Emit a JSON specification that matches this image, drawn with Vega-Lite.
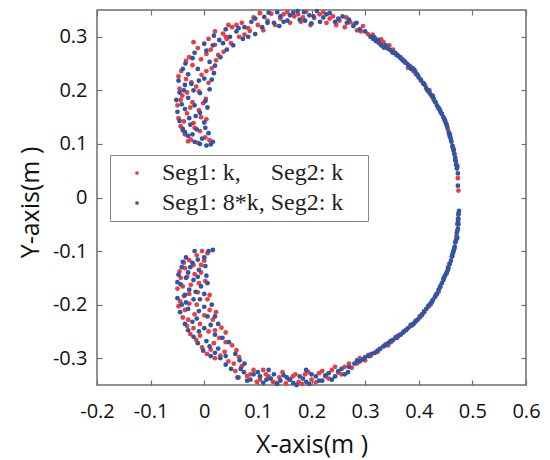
{
"$schema":"https://vega.github.io/schema/vega-lite/v6.json",
"autosize":{"type":"none"},
"padding":{"left":97,"top":10,"right":24,"bottom":75},
"width":429,"height":375,
"background":"white",
"config":{"view":{"stroke":"#6e6e6e","strokeWidth":1.5},"axis":{"grid":false,"domain":false,"labelFlush":false,"tickColor":"#6e6e6e","tickSize":-5,"tickWidth":1.2,"labelFont":"Open Sans","labelFontSize":20,"labelColor":"#111","titleFont":"Open Sans","titleFontSize":25,"titleFontWeight":"normal","titleColor":"#111"}},
"data":{"values":[
{"seg1":"k","x":-0.012,"y":0.102},{"seg1":"k","x":-0.025,"y":0.108},{"seg1":"k","x":0.002,"y":0.112},{"seg1":"k","x":-0.036,"y":0.118},{"seg1":"k","x":-0.008,"y":0.124},{"seg1":"k","x":-0.044,"y":0.133},{"seg1":"k","x":-0.02,"y":0.139},{"seg1":"k","x":0.004,"y":0.146},{"seg1":"k","x":-0.048,"y":0.148},{"seg1":"k","x":-0.032,"y":0.157},{"seg1":"k","x":-0.01,"y":0.163},{"seg1":"k","x":-0.05,"y":0.172},{"seg1":"k","x":-0.022,"y":0.178},{"seg1":"k","x":0.003,"y":0.184},{"seg1":"k","x":-0.041,"y":0.19},{"seg1":"k","x":-0.046,"y":0.203},{"seg1":"k","x":-0.015,"y":0.207},{"seg1":"k","x":0.008,"y":0.214},{"seg1":"k","x":-0.034,"y":0.221},{"seg1":"k","x":-0.005,"y":0.229},{"seg1":"k","x":-0.043,"y":0.236},{"seg1":"k","x":0.014,"y":0.241},{"seg1":"k","x":-0.022,"y":0.247},{"seg1":"k","x":0.022,"y":0.256},{"seg1":"k","x":-0.028,"y":0.262},{"seg1":"k","x":0.004,"y":0.268},{"seg1":"k","x":0.036,"y":0.272},{"seg1":"k","x":-0.012,"y":0.279},{"seg1":"k","x":0.02,"y":0.285},{"seg1":"k","x":0.05,"y":0.288},{"seg1":"k","x":0.008,"y":0.296},{"seg1":"k","x":0.065,"y":0.3},{"seg1":"k","x":0.035,"y":0.306},{"seg1":"k","x":0.085,"y":0.311},{"seg1":"k","x":0.052,"y":0.318},
{"seg1":"k","x":-0.03,"y":0.105},{"seg1":"k","x":0.01,"y":0.107},{"seg1":"k","x":-0.04,"y":0.125},{"seg1":"k","x":-0.018,"y":0.13},{"seg1":"k","x":-0.038,"y":0.142},{"seg1":"k","x":-0.006,"y":0.15},{"seg1":"k","x":-0.026,"y":0.168},{"seg1":"k","x":-0.044,"y":0.182},{"seg1":"k","x":-0.002,"y":0.176},{"seg1":"k","x":-0.032,"y":0.196},{"seg1":"k","x":-0.01,"y":0.198},{"seg1":"k","x":-0.024,"y":0.215},{"seg1":"k","x":-0.048,"y":0.226},{"seg1":"k","x":0.004,"y":0.236},{"seg1":"k","x":-0.034,"y":0.255},{"seg1":"k","x":-0.006,"y":0.258},{"seg1":"k","x":0.026,"y":0.266},{"seg1":"k","x":-0.02,"y":0.29},{"seg1":"k","x":0.012,"y":0.276},{"seg1":"k","x":0.042,"y":0.296},{"seg1":"k","x":0.075,"y":0.304},{"seg1":"k","x":0.02,"y":0.31},{"seg1":"k","x":0.06,"y":0.322},{"seg1":"k","x":0.04,"y":0.3},{"seg1":"k","x":0.045,"y":0.322},
{"seg1":"k","x":0.07,"y":0.326},{"seg1":"k","x":0.1,"y":0.322},{"seg1":"k","x":0.092,"y":0.336},{"seg1":"k","x":0.118,"y":0.33},{"seg1":"k","x":0.125,"y":0.343},{"seg1":"k","x":0.142,"y":0.334},{"seg1":"k","x":0.155,"y":0.346},{"seg1":"k","x":0.168,"y":0.338},{"seg1":"k","x":0.18,"y":0.328},{"seg1":"k","x":0.19,"y":0.347},{"seg1":"k","x":0.205,"y":0.335},{"seg1":"k","x":0.215,"y":0.342},{"seg1":"k","x":0.228,"y":0.326},{"seg1":"k","x":0.24,"y":0.338},{"seg1":"k","x":0.252,"y":0.33},{"seg1":"k","x":0.262,"y":0.318},{"seg1":"k","x":0.272,"y":0.327},{"seg1":"k","x":0.285,"y":0.312},{"seg1":"k","x":0.296,"y":0.32},{"seg1":"k","x":0.305,"y":0.305},
{"seg1":"k","x":0.082,"y":0.316},{"seg1":"k","x":0.11,"y":0.312},{"seg1":"k","x":0.132,"y":0.322},{"seg1":"k","x":0.148,"y":0.342},{"seg1":"k","x":0.16,"y":0.326},{"seg1":"k","x":0.175,"y":0.342},{"seg1":"k","x":0.198,"y":0.322},{"seg1":"k","x":0.222,"y":0.346},{"seg1":"k","x":0.234,"y":0.334},{"seg1":"k","x":0.246,"y":0.322},{"seg1":"k","x":0.265,"y":0.336},{"seg1":"k","x":0.28,"y":0.324},{"seg1":"k","x":0.104,"y":0.344},{"seg1":"k","x":0.184,"y":0.336},{"seg1":"k","x":0.292,"y":0.31},
{"seg1":"k","x":0.318,"y":0.298},{"seg1":"k","x":0.326,"y":0.288},{"seg1":"k","x":0.334,"y":0.29},{"seg1":"k","x":0.342,"y":0.278},{"seg1":"k","x":0.352,"y":0.276},{"seg1":"k","x":0.358,"y":0.266},{"seg1":"k","x":0.366,"y":0.262},{"seg1":"k","x":0.374,"y":0.252},{"seg1":"k","x":0.383,"y":0.246},{"seg1":"k","x":0.39,"y":0.236},{"seg1":"k","x":0.398,"y":0.228},{"seg1":"k","x":0.404,"y":0.218},{"seg1":"k","x":0.412,"y":0.209},{"seg1":"k","x":0.418,"y":0.198},{"seg1":"k","x":0.425,"y":0.188},{"seg1":"k","x":0.431,"y":0.178},{"seg1":"k","x":0.437,"y":0.166},{"seg1":"k","x":0.443,"y":0.156},{"seg1":"k","x":0.449,"y":0.142},{"seg1":"k","x":0.454,"y":0.128},{"seg1":"k","x":0.459,"y":0.112},{"seg1":"k","x":0.463,"y":0.096},{"seg1":"k","x":0.467,"y":0.08},{"seg1":"k","x":0.473,"y":0.036},{"seg1":"k","x":0.474,"y":0.013},
{"seg1":"k","x":0.314,"y":0.304},{"seg1":"k","x":0.33,"y":0.295},{"seg1":"k","x":0.345,"y":0.284},{"seg1":"k","x":0.355,"y":0.27},{"seg1":"k","x":0.37,"y":0.258},{"seg1":"k","x":0.38,"y":0.242},{"seg1":"k","x":0.395,"y":0.23},{"seg1":"k","x":0.409,"y":0.212},{"seg1":"k","x":0.42,"y":0.2},{"seg1":"k","x":0.428,"y":0.182},{"seg1":"k","x":0.44,"y":0.16},{"seg1":"k","x":0.452,"y":0.136},{"seg1":"k","x":0.458,"y":0.118},{"seg1":"k","x":0.465,"y":0.09},{"seg1":"k","x":0.47,"y":0.06},
{"seg1":"k","x":0.474,"y":-0.03},{"seg1":"k","x":0.472,"y":-0.05},{"seg1":"k","x":0.47,"y":-0.072},{"seg1":"k","x":0.466,"y":-0.095},{"seg1":"k","x":0.462,"y":-0.11},{"seg1":"k","x":0.457,"y":-0.124},{"seg1":"k","x":0.452,"y":-0.142},{"seg1":"k","x":0.446,"y":-0.152},{"seg1":"k","x":0.44,"y":-0.168},{"seg1":"k","x":0.433,"y":-0.18},{"seg1":"k","x":0.426,"y":-0.192},{"seg1":"k","x":0.418,"y":-0.204},{"seg1":"k","x":0.41,"y":-0.212},{"seg1":"k","x":0.402,"y":-0.224},{"seg1":"k","x":0.394,"y":-0.23},{"seg1":"k","x":0.385,"y":-0.24},{"seg1":"k","x":0.376,"y":-0.247},{"seg1":"k","x":0.366,"y":-0.256},{"seg1":"k","x":0.357,"y":-0.26},{"seg1":"k","x":0.348,"y":-0.27},{"seg1":"k","x":0.338,"y":-0.274},{"seg1":"k","x":0.328,"y":-0.283},{"seg1":"k","x":0.318,"y":-0.29},{"seg1":"k","x":0.306,"y":-0.294},{"seg1":"k","x":0.296,"y":-0.302},
{"seg1":"k","x":0.473,"y":-0.04},{"seg1":"k","x":0.469,"y":-0.082},{"seg1":"k","x":0.464,"y":-0.102},{"seg1":"k","x":0.455,"y":-0.13},{"seg1":"k","x":0.448,"y":-0.148},{"seg1":"k","x":0.437,"y":-0.176},{"seg1":"k","x":0.422,"y":-0.2},{"seg1":"k","x":0.406,"y":-0.22},{"seg1":"k","x":0.39,"y":-0.236},{"seg1":"k","x":0.372,"y":-0.25},{"seg1":"k","x":0.36,"y":-0.262},{"seg1":"k","x":0.343,"y":-0.276},{"seg1":"k","x":0.323,"y":-0.288},{"seg1":"k","x":0.31,"y":-0.296},{"seg1":"k","x":0.3,"y":-0.304},
{"seg1":"k","x":0.285,"y":-0.31},{"seg1":"k","x":0.275,"y":-0.318},{"seg1":"k","x":0.262,"y":-0.316},{"seg1":"k","x":0.25,"y":-0.327},{"seg1":"k","x":0.238,"y":-0.322},{"seg1":"k","x":0.226,"y":-0.334},{"seg1":"k","x":0.214,"y":-0.328},{"seg1":"k","x":0.2,"y":-0.34},{"seg1":"k","x":0.188,"y":-0.33},{"seg1":"k","x":0.176,"y":-0.344},{"seg1":"k","x":0.165,"y":-0.334},{"seg1":"k","x":0.152,"y":-0.347},{"seg1":"k","x":0.14,"y":-0.336},{"seg1":"k","x":0.128,"y":-0.344},{"seg1":"k","x":0.115,"y":-0.33},{"seg1":"k","x":0.104,"y":-0.34},{"seg1":"k","x":0.092,"y":-0.322},{"seg1":"k","x":0.08,"y":-0.333},{"seg1":"k","x":0.07,"y":-0.315},{"seg1":"k","x":0.058,"y":-0.324},
{"seg1":"k","x":0.29,"y":-0.3},{"seg1":"k","x":0.27,"y":-0.31},{"seg1":"k","x":0.256,"y":-0.33},{"seg1":"k","x":0.244,"y":-0.316},{"seg1":"k","x":0.232,"y":-0.338},{"seg1":"k","x":0.22,"y":-0.324},{"seg1":"k","x":0.208,"y":-0.345},{"seg1":"k","x":0.194,"y":-0.326},{"seg1":"k","x":0.182,"y":-0.348},{"seg1":"k","x":0.17,"y":-0.33},{"seg1":"k","x":0.158,"y":-0.34},{"seg1":"k","x":0.146,"y":-0.326},{"seg1":"k","x":0.134,"y":-0.346},{"seg1":"k","x":0.12,"y":-0.334},{"seg1":"k","x":0.11,"y":-0.322},{"seg1":"k","x":0.098,"y":-0.344},{"seg1":"k","x":0.086,"y":-0.33},{"seg1":"k","x":0.064,"y":-0.336},
{"seg1":"k","x":0.045,"y":-0.306},{"seg1":"k","x":0.02,"y":-0.3},{"seg1":"k","x":0.065,"y":-0.298},{"seg1":"k","x":0.005,"y":-0.292},{"seg1":"k","x":0.038,"y":-0.288},{"seg1":"k","x":-0.004,"y":-0.28},{"seg1":"k","x":0.052,"y":-0.276},{"seg1":"k","x":0.018,"y":-0.272},{"seg1":"k","x":-0.015,"y":-0.266},{"seg1":"k","x":0.028,"y":-0.262},{"seg1":"k","x":-0.026,"y":-0.255},{"seg1":"k","x":0.008,"y":-0.25},{"seg1":"k","x":0.032,"y":-0.243},{"seg1":"k","x":-0.032,"y":-0.24},{"seg1":"k","x":-0.008,"y":-0.236},{"seg1":"k","x":0.016,"y":-0.228},{"seg1":"k","x":-0.04,"y":-0.224},{"seg1":"k","x":-0.018,"y":-0.218},{"seg1":"k","x":0.01,"y":-0.21},{"seg1":"k","x":-0.048,"y":-0.203},{"seg1":"k","x":-0.028,"y":-0.198},{"seg1":"k","x":0.006,"y":-0.19},{"seg1":"k","x":-0.038,"y":-0.184},{"seg1":"k","x":-0.012,"y":-0.177},{"seg1":"k","x":-0.05,"y":-0.17},{"seg1":"k","x":-0.025,"y":-0.163},{"seg1":"k","x":0.002,"y":-0.156},{"seg1":"k","x":-0.044,"y":-0.15},{"seg1":"k","x":-0.018,"y":-0.143},{"seg1":"k","x":-0.036,"y":-0.132},{"seg1":"k","x":-0.006,"y":-0.126},{"seg1":"k","x":-0.028,"y":-0.117},{"seg1":"k","x":-0.014,"y":-0.108},{"seg1":"k","x":-0.004,"y":-0.1},{"seg1":"k","x":0.006,"y":-0.104},
{"seg1":"k","x":0.055,"y":-0.31},{"seg1":"k","x":0.03,"y":-0.295},{"seg1":"k","x":0.012,"y":-0.284},{"seg1":"k","x":0.06,"y":-0.285},{"seg1":"k","x":0.04,"y":-0.27},{"seg1":"k","x":-0.008,"y":-0.258},{"seg1":"k","x":0.02,"y":-0.248},{"seg1":"k","x":-0.02,"y":-0.244},{"seg1":"k","x":0.04,"y":-0.252},{"seg1":"k","x":-0.03,"y":-0.228},{"seg1":"k","x":0.0,"y":-0.22},{"seg1":"k","x":0.022,"y":-0.214},{"seg1":"k","x":-0.036,"y":-0.21},{"seg1":"k","x":-0.014,"y":-0.2},{"seg1":"k","x":-0.045,"y":-0.194},{"seg1":"k","x":0.01,"y":-0.182},{"seg1":"k","x":-0.028,"y":-0.18},{"seg1":"k","x":-0.04,"y":-0.166},{"seg1":"k","x":-0.01,"y":-0.16},{"seg1":"k","x":-0.032,"y":-0.148},{"seg1":"k","x":-0.006,"y":-0.14},{"seg1":"k","x":-0.046,"y":-0.138},{"seg1":"k","x":-0.02,"y":-0.126},{"seg1":"k","x":-0.038,"y":-0.122},{"seg1":"k","x":0.0,"y":-0.118},
{"seg1":"8*k","x":0.004,"y":0.097},{"seg1":"8*k","x":0.012,"y":0.099},{"seg1":"8*k","x":-0.018,"y":0.104},{"seg1":"8*k","x":-0.004,"y":0.11},{"seg1":"8*k","x":-0.03,"y":0.115},{"seg1":"8*k","x":0.008,"y":0.12},{"seg1":"8*k","x":-0.014,"y":0.127},{"seg1":"8*k","x":-0.04,"y":0.128},{"seg1":"8*k","x":-0.026,"y":0.136},{"seg1":"8*k","x":0.0,"y":0.14},{"seg1":"8*k","x":-0.046,"y":0.143},{"seg1":"8*k","x":-0.016,"y":0.152},{"seg1":"8*k","x":-0.036,"y":0.165},{"seg1":"8*k","x":0.006,"y":0.168},{"seg1":"8*k","x":-0.052,"y":0.182},{"seg1":"8*k","x":-0.03,"y":0.186},{"seg1":"8*k","x":-0.008,"y":0.195},{"seg1":"8*k","x":-0.038,"y":0.2},{"seg1":"8*k","x":0.01,"y":0.202},{"seg1":"8*k","x":-0.024,"y":0.212},{"seg1":"8*k","x":-0.048,"y":0.218},{"seg1":"8*k","x":0.0,"y":0.222},{"seg1":"8*k","x":-0.03,"y":0.23},{"seg1":"8*k","x":0.018,"y":0.232},{"seg1":"8*k","x":-0.012,"y":0.24},{"seg1":"8*k","x":-0.035,"y":0.25},{"seg1":"8*k","x":0.01,"y":0.253},{"seg1":"8*k","x":0.03,"y":0.262},{"seg1":"8*k","x":-0.018,"y":0.27},{"seg1":"8*k","x":0.042,"y":0.276},{"seg1":"8*k","x":0.0,"y":0.287},{"seg1":"8*k","x":0.028,"y":0.294},{"seg1":"8*k","x":0.072,"y":0.296},{"seg1":"8*k","x":0.018,"y":0.302},{"seg1":"8*k","x":0.048,"y":0.3},{"seg1":"8*k","x":0.06,"y":0.31},{"seg1":"8*k","x":0.095,"y":0.305},{"seg1":"8*k","x":0.04,"y":0.314},
{"seg1":"8*k","x":-0.008,"y":0.1},{"seg1":"8*k","x":0.016,"y":0.104},{"seg1":"8*k","x":-0.022,"y":0.118},{"seg1":"8*k","x":-0.036,"y":0.122},{"seg1":"8*k","x":0.002,"y":0.13},{"seg1":"8*k","x":-0.05,"y":0.16},{"seg1":"8*k","x":-0.028,"y":0.148},{"seg1":"8*k","x":-0.008,"y":0.158},{"seg1":"8*k","x":-0.042,"y":0.174},{"seg1":"8*k","x":-0.018,"y":0.172},{"seg1":"8*k","x":0.002,"y":0.18},{"seg1":"8*k","x":-0.046,"y":0.196},{"seg1":"8*k","x":-0.02,"y":0.2},{"seg1":"8*k","x":-0.036,"y":0.21},{"seg1":"8*k","x":-0.01,"y":0.218},{"seg1":"8*k","x":0.014,"y":0.22},{"seg1":"8*k","x":-0.04,"y":0.24},{"seg1":"8*k","x":-0.022,"y":0.26},{"seg1":"8*k","x":0.02,"y":0.246},{"seg1":"8*k","x":0.004,"y":0.274},{"seg1":"8*k","x":0.054,"y":0.284},{"seg1":"8*k","x":0.016,"y":0.284},{"seg1":"8*k","x":0.035,"y":0.288},{"seg1":"8*k","x":0.082,"y":0.3},{"seg1":"8*k","x":0.064,"y":0.316},
{"seg1":"8*k","x":0.075,"y":0.318},{"seg1":"8*k","x":0.088,"y":0.328},{"seg1":"8*k","x":0.108,"y":0.318},{"seg1":"8*k","x":0.112,"y":0.337},{"seg1":"8*k","x":0.13,"y":0.326},{"seg1":"8*k","x":0.136,"y":0.346},{"seg1":"8*k","x":0.148,"y":0.328},{"seg1":"8*k","x":0.16,"y":0.34},{"seg1":"8*k","x":0.174,"y":0.348},{"seg1":"8*k","x":0.178,"y":0.332},{"seg1":"8*k","x":0.196,"y":0.34},{"seg1":"8*k","x":0.2,"y":0.325},{"seg1":"8*k","x":0.21,"y":0.348},{"seg1":"8*k","x":0.222,"y":0.336},{"seg1":"8*k","x":0.234,"y":0.344},{"seg1":"8*k","x":0.244,"y":0.328},{"seg1":"8*k","x":0.258,"y":0.338},{"seg1":"8*k","x":0.266,"y":0.326},{"seg1":"8*k","x":0.278,"y":0.32},{"seg1":"8*k","x":0.29,"y":0.314},{"seg1":"8*k","x":0.3,"y":0.31},{"seg1":"8*k","x":0.31,"y":0.3},
{"seg1":"8*k","x":0.095,"y":0.334},{"seg1":"8*k","x":0.12,"y":0.345},{"seg1":"8*k","x":0.118,"y":0.326},{"seg1":"8*k","x":0.142,"y":0.338},{"seg1":"8*k","x":0.155,"y":0.33},{"seg1":"8*k","x":0.166,"y":0.345},{"seg1":"8*k","x":0.188,"y":0.33},{"seg1":"8*k","x":0.186,"y":0.346},{"seg1":"8*k","x":0.204,"y":0.338},{"seg1":"8*k","x":0.216,"y":0.328},{"seg1":"8*k","x":0.228,"y":0.342},{"seg1":"8*k","x":0.25,"y":0.334},{"seg1":"8*k","x":0.27,"y":0.332},{"seg1":"8*k","x":0.284,"y":0.326},{"seg1":"8*k","x":0.14,"y":0.32},
{"seg1":"8*k","x":0.32,"y":0.292},{"seg1":"8*k","x":0.33,"y":0.284},{"seg1":"8*k","x":0.338,"y":0.284},{"seg1":"8*k","x":0.346,"y":0.276},{"seg1":"8*k","x":0.356,"y":0.27},{"seg1":"8*k","x":0.362,"y":0.264},{"seg1":"8*k","x":0.37,"y":0.256},{"seg1":"8*k","x":0.378,"y":0.25},{"seg1":"8*k","x":0.386,"y":0.24},{"seg1":"8*k","x":0.394,"y":0.234},{"seg1":"8*k","x":0.4,"y":0.224},{"seg1":"8*k","x":0.408,"y":0.214},{"seg1":"8*k","x":0.414,"y":0.204},{"seg1":"8*k","x":0.421,"y":0.194},{"seg1":"8*k","x":0.428,"y":0.184},{"seg1":"8*k","x":0.434,"y":0.172},{"seg1":"8*k","x":0.44,"y":0.162},{"seg1":"8*k","x":0.446,"y":0.15},{"seg1":"8*k","x":0.451,"y":0.138},{"seg1":"8*k","x":0.456,"y":0.122},{"seg1":"8*k","x":0.461,"y":0.104},{"seg1":"8*k","x":0.465,"y":0.088},{"seg1":"8*k","x":0.468,"y":0.074},{"seg1":"8*k","x":0.47,"y":0.062},{"seg1":"8*k","x":0.471,"y":0.054},{"seg1":"8*k","x":0.473,"y":0.045},{"seg1":"8*k","x":0.473,"y":0.022},{"seg1":"8*k","x":0.472,"y":0.058},
{"seg1":"8*k","x":0.315,"y":0.296},{"seg1":"8*k","x":0.325,"y":0.29},{"seg1":"8*k","x":0.335,"y":0.28},{"seg1":"8*k","x":0.35,"y":0.272},{"seg1":"8*k","x":0.366,"y":0.26},{"seg1":"8*k","x":0.382,"y":0.245},{"seg1":"8*k","x":0.392,"y":0.238},{"seg1":"8*k","x":0.404,"y":0.22},{"seg1":"8*k","x":0.418,"y":0.2},{"seg1":"8*k","x":0.426,"y":0.19},{"seg1":"8*k","x":0.438,"y":0.166},{"seg1":"8*k","x":0.449,"y":0.144},{"seg1":"8*k","x":0.458,"y":0.114},{"seg1":"8*k","x":0.463,"y":0.096},{"seg1":"8*k","x":0.469,"y":0.068},
{"seg1":"8*k","x":0.316,"y":0.3},{"seg1":"8*k","x":0.324,"y":0.294},{"seg1":"8*k","x":0.34,"y":0.28},{"seg1":"8*k","x":0.352,"y":0.27},{"seg1":"8*k","x":0.36,"y":0.266},{"seg1":"8*k","x":0.374,"y":0.254},{"seg1":"8*k","x":0.388,"y":0.242},{"seg1":"8*k","x":0.397,"y":0.23},{"seg1":"8*k","x":0.41,"y":0.212},{"seg1":"8*k","x":0.416,"y":0.2},{"seg1":"8*k","x":0.424,"y":0.19},{"seg1":"8*k","x":0.431,"y":0.178},{"seg1":"8*k","x":0.436,"y":0.168},{"seg1":"8*k","x":0.443,"y":0.156},{"seg1":"8*k","x":0.448,"y":0.146},{"seg1":"8*k","x":0.453,"y":0.132},{"seg1":"8*k","x":0.457,"y":0.118},{"seg1":"8*k","x":0.46,"y":0.108},{"seg1":"8*k","x":0.464,"y":0.092},{"seg1":"8*k","x":0.466,"y":0.082},{"seg1":"8*k","x":0.468,"y":0.07},
{"seg1":"8*k","x":0.475,"y":-0.025},{"seg1":"8*k","x":0.474,"y":-0.04},{"seg1":"8*k","x":0.473,"y":-0.058},{"seg1":"8*k","x":0.471,"y":-0.066},{"seg1":"8*k","x":0.468,"y":-0.084},{"seg1":"8*k","x":0.465,"y":-0.1},{"seg1":"8*k","x":0.46,"y":-0.118},{"seg1":"8*k","x":0.455,"y":-0.132},{"seg1":"8*k","x":0.449,"y":-0.146},{"seg1":"8*k","x":0.443,"y":-0.16},{"seg1":"8*k","x":0.437,"y":-0.172},{"seg1":"8*k","x":0.43,"y":-0.186},{"seg1":"8*k","x":0.422,"y":-0.198},{"seg1":"8*k","x":0.414,"y":-0.208},{"seg1":"8*k","x":0.406,"y":-0.218},{"seg1":"8*k","x":0.398,"y":-0.228},{"seg1":"8*k","x":0.39,"y":-0.236},{"seg1":"8*k","x":0.38,"y":-0.244},{"seg1":"8*k","x":0.371,"y":-0.252},{"seg1":"8*k","x":0.362,"y":-0.258},{"seg1":"8*k","x":0.352,"y":-0.266},{"seg1":"8*k","x":0.343,"y":-0.272},{"seg1":"8*k","x":0.334,"y":-0.278},{"seg1":"8*k","x":0.323,"y":-0.286},{"seg1":"8*k","x":0.312,"y":-0.292},{"seg1":"8*k","x":0.3,"y":-0.298},{"seg1":"8*k","x":0.29,"y":-0.306},{"seg1":"8*k","x":0.28,"y":-0.31},
{"seg1":"8*k","x":0.474,"y":-0.05},{"seg1":"8*k","x":0.472,"y":-0.075},{"seg1":"8*k","x":0.467,"y":-0.092},{"seg1":"8*k","x":0.462,"y":-0.11},{"seg1":"8*k","x":0.452,"y":-0.14},{"seg1":"8*k","x":0.446,"y":-0.154},{"seg1":"8*k","x":0.434,"y":-0.18},{"seg1":"8*k","x":0.426,"y":-0.192},{"seg1":"8*k","x":0.41,"y":-0.214},{"seg1":"8*k","x":0.394,"y":-0.232},{"seg1":"8*k","x":0.385,"y":-0.238},{"seg1":"8*k","x":0.366,"y":-0.256},{"seg1":"8*k","x":0.347,"y":-0.268},{"seg1":"8*k","x":0.328,"y":-0.282},{"seg1":"8*k","x":0.306,"y":-0.296},
{"seg1":"8*k","x":0.474,"y":-0.032},{"seg1":"8*k","x":0.473,"y":-0.046},{"seg1":"8*k","x":0.472,"y":-0.062},{"seg1":"8*k","x":0.47,"y":-0.078},{"seg1":"8*k","x":0.466,"y":-0.096},{"seg1":"8*k","x":0.463,"y":-0.106},{"seg1":"8*k","x":0.458,"y":-0.124},{"seg1":"8*k","x":0.454,"y":-0.136},{"seg1":"8*k","x":0.447,"y":-0.15},{"seg1":"8*k","x":0.44,"y":-0.166},{"seg1":"8*k","x":0.432,"y":-0.182},{"seg1":"8*k","x":0.424,"y":-0.196},{"seg1":"8*k","x":0.418,"y":-0.202},{"seg1":"8*k","x":0.402,"y":-0.222},{"seg1":"8*k","x":0.388,"y":-0.238},{"seg1":"8*k","x":0.376,"y":-0.248},{"seg1":"8*k","x":0.358,"y":-0.262},{"seg1":"8*k","x":0.338,"y":-0.276},{"seg1":"8*k","x":0.318,"y":-0.29},{"seg1":"8*k","x":0.296,"y":-0.302},
{"seg1":"8*k","x":0.27,"y":-0.316},{"seg1":"8*k","x":0.268,"y":-0.326},{"seg1":"8*k","x":0.256,"y":-0.32},{"seg1":"8*k","x":0.244,"y":-0.334},{"seg1":"8*k","x":0.232,"y":-0.328},{"seg1":"8*k","x":0.22,"y":-0.342},{"seg1":"8*k","x":0.208,"y":-0.334},{"seg1":"8*k","x":0.196,"y":-0.348},{"seg1":"8*k","x":0.184,"y":-0.338},{"seg1":"8*k","x":0.172,"y":-0.35},{"seg1":"8*k","x":0.16,"y":-0.34},{"seg1":"8*k","x":0.148,"y":-0.332},{"seg1":"8*k","x":0.136,"y":-0.348},{"seg1":"8*k","x":0.124,"y":-0.338},{"seg1":"8*k","x":0.11,"y":-0.346},{"seg1":"8*k","x":0.1,"y":-0.326},{"seg1":"8*k","x":0.086,"y":-0.34},{"seg1":"8*k","x":0.074,"y":-0.326},{"seg1":"8*k","x":0.062,"y":-0.336},{"seg1":"8*k","x":0.05,"y":-0.32},{"seg1":"8*k","x":0.04,"y":-0.312},{"seg1":"8*k","x":0.075,"y":-0.31},{"seg1":"8*k","x":0.19,"y":-0.322},{"seg1":"8*k","x":0.12,"y":-0.322},
{"seg1":"8*k","x":0.285,"y":-0.304},{"seg1":"8*k","x":0.262,"y":-0.33},{"seg1":"8*k","x":0.25,"y":-0.324},{"seg1":"8*k","x":0.238,"y":-0.34},{"seg1":"8*k","x":0.226,"y":-0.332},{"seg1":"8*k","x":0.214,"y":-0.342},{"seg1":"8*k","x":0.2,"y":-0.33},{"seg1":"8*k","x":0.19,"y":-0.344},{"seg1":"8*k","x":0.178,"y":-0.334},{"seg1":"8*k","x":0.166,"y":-0.346},{"seg1":"8*k","x":0.154,"y":-0.336},{"seg1":"8*k","x":0.142,"y":-0.342},{"seg1":"8*k","x":0.13,"y":-0.33},{"seg1":"8*k","x":0.116,"y":-0.34},{"seg1":"8*k","x":0.104,"y":-0.334},{"seg1":"8*k","x":0.092,"y":-0.33},{"seg1":"8*k","x":0.08,"y":-0.342},{"seg1":"8*k","x":0.068,"y":-0.32},
{"seg1":"8*k","x":0.03,"y":-0.3},{"seg1":"8*k","x":0.012,"y":-0.296},{"seg1":"8*k","x":0.058,"y":-0.292},{"seg1":"8*k","x":-0.002,"y":-0.286},{"seg1":"8*k","x":0.026,"y":-0.282},{"seg1":"8*k","x":0.046,"y":-0.27},{"seg1":"8*k","x":0.004,"y":-0.268},{"seg1":"8*k","x":-0.02,"y":-0.26},{"seg1":"8*k","x":0.02,"y":-0.256},{"seg1":"8*k","x":-0.03,"y":-0.248},{"seg1":"8*k","x":0.0,"y":-0.244},{"seg1":"8*k","x":0.026,"y":-0.236},{"seg1":"8*k","x":-0.022,"y":-0.232},{"seg1":"8*k","x":0.006,"y":-0.222},{"seg1":"8*k","x":-0.045,"y":-0.214},{"seg1":"8*k","x":-0.01,"y":-0.212},{"seg1":"8*k","x":0.014,"y":-0.2},{"seg1":"8*k","x":-0.034,"y":-0.196},{"seg1":"8*k","x":-0.02,"y":-0.19},{"seg1":"8*k","x":-0.05,"y":-0.188},{"seg1":"8*k","x":0.0,"y":-0.18},{"seg1":"8*k","x":-0.028,"y":-0.172},{"seg1":"8*k","x":-0.044,"y":-0.162},{"seg1":"8*k","x":-0.006,"y":-0.166},{"seg1":"8*k","x":-0.02,"y":-0.154},{"seg1":"8*k","x":-0.05,"y":-0.158},{"seg1":"8*k","x":0.004,"y":-0.146},{"seg1":"8*k","x":-0.03,"y":-0.14},{"seg1":"8*k","x":-0.042,"y":-0.13},{"seg1":"8*k","x":-0.01,"y":-0.135},{"seg1":"8*k","x":-0.022,"y":-0.122},{"seg1":"8*k","x":-0.034,"y":-0.112},{"seg1":"8*k","x":0.0,"y":-0.112},{"seg1":"8*k","x":-0.018,"y":-0.1},{"seg1":"8*k","x":0.008,"y":-0.1},{"seg1":"8*k","x":0.016,"y":-0.098},
{"seg1":"8*k","x":0.04,"y":-0.296},{"seg1":"8*k","x":0.02,"y":-0.29},{"seg1":"8*k","x":0.066,"y":-0.304},{"seg1":"8*k","x":0.01,"y":-0.278},{"seg1":"8*k","x":0.034,"y":-0.262},{"seg1":"8*k","x":-0.012,"y":-0.272},{"seg1":"8*k","x":-0.01,"y":-0.25},{"seg1":"8*k","x":0.012,"y":-0.238},{"seg1":"8*k","x":-0.036,"y":-0.236},{"seg1":"8*k","x":-0.014,"y":-0.226},{"seg1":"8*k","x":0.02,"y":-0.222},{"seg1":"8*k","x":-0.03,"y":-0.208},{"seg1":"8*k","x":0.0,"y":-0.204},{"seg1":"8*k","x":-0.042,"y":-0.2},{"seg1":"8*k","x":-0.008,"y":-0.19},{"seg1":"8*k","x":-0.036,"y":-0.182},{"seg1":"8*k","x":-0.016,"y":-0.176},{"seg1":"8*k","x":0.006,"y":-0.16},{"seg1":"8*k","x":-0.034,"y":-0.15},{"seg1":"8*k","x":-0.012,"y":-0.148},{"seg1":"8*k","x":-0.048,"y":-0.144},{"seg1":"8*k","x":-0.026,"y":-0.13},{"seg1":"8*k","x":0.002,"y":-0.128},{"seg1":"8*k","x":-0.012,"y":-0.116},{"seg1":"8*k","x":-0.04,"y":-0.12}
]},
"layer":[
{"mark":{"type":"circle","size":23,"opacity":1},
 "encoding":{
  "x":{"field":"x","type":"quantitative","scale":{"domain":[-0.2,0.6],"nice":false,"zero":false},
       "axis":{"orient":"bottom","values":[-0.2,-0.1,0,0.1,0.2,0.3,0.4,0.5,0.6],"labelPadding":21,"labelExpr":"datum.value == 0 ? '0' : (datum.value < 0 ? '-' : '') + format(abs(datum.value), '.1f')","title":"X-axis(m )","titleBaseline":"alphabetic","titleY":67}},
  "y":{"field":"y","type":"quantitative","scale":{"domain":[-0.35,0.35],"nice":false,"zero":false},
       "axis":{"orient":"left","values":[-0.3,-0.2,-0.1,0,0.1,0.2,0.3],"labelPadding":15,"labelExpr":"datum.value == 0 ? '0' : (datum.value < 0 ? '-' : '') + format(abs(datum.value), '.1f')","title":"Y-axis(m )","titleBaseline":"alphabetic","titleX":-59,"titleY":192}},
  "color":{"field":"seg1","type":"nominal","scale":{"domain":["k","8*k"],"range":["#ee3b3b","#2c56a8"]},
       "legend":{"title":null,"orient":"none","legendX":13,"legendY":145,"labelExpr":"datum.value == 'k' ? 'Seg1: k,\u00a0\u00a0\u00a0\u00a0\u00a0Seg2: k\u00a0\u00a0\u00a0\u200b' : 'Seg1: 8*k, Seg2: k\u00a0\u00a0\u00a0\u200b'","labelFont":"Liberation Serif","labelFontSize":24,"labelColor":"#222","symbolType":"circle","symbolSize":14,"symbolStrokeWidth":0,"padding":6,"symbolOffset":9,"labelOffset":13,"rowPadding":6,"strokeColor":"#888","fillColor":"white","labelLimit":400}}
 }},
{"mark":{"type":"circle","opacity":0},
 "encoding":{
  "x":{"field":"x","type":"quantitative","axis":{"orient":"top","values":[-0.2,-0.1,0,0.1,0.2,0.3,0.4,0.5,0.6],"labels":false,"title":null}},
  "y":{"field":"y","type":"quantitative","axis":{"orient":"right","values":[-0.3,-0.2,-0.1,0,0.1,0.2,0.3],"labels":false,"title":null}}
 }}
],
"resolve":{"axis":{"x":"independent","y":"independent"}}
}
